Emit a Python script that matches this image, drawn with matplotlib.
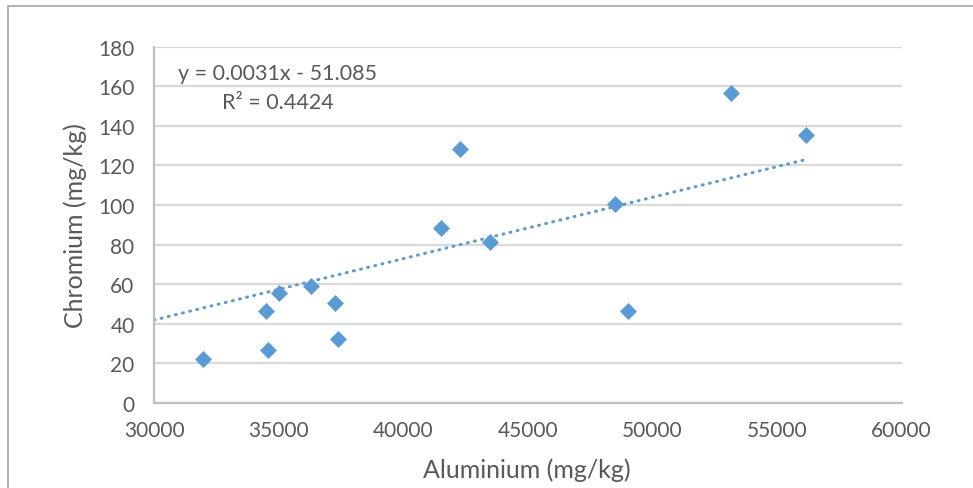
import matplotlib.pyplot as plt
from matplotlib.patches import Rectangle

# dados (Al x Cr, mg/kg)
aluminio = [31950, 34490, 34590, 35020, 36300, 37280, 37380,
            41500, 42270, 43500, 48500, 49010, 53170, 56160]
cromo = [22.2, 46.6, 26.8, 55.6, 59.3, 50.7, 32.3,
         88.3, 128.2, 81.5, 100.4, 46.5, 156.8, 135.3]

# linha de tendencia (como mostrado no grafico)
inclinacao = 0.0031
intercepto = -51.085
r2 = 0.4424
x_tend = [30000, max(aluminio)]

azul = '#5B9BD5'
cinza_txt = '#595959'

plt.rcParams['font.family'] = ['Lato', 'DejaVu Sans']

fig = plt.figure(figsize=(9.73, 4.89), dpi=100)
ax = fig.add_axes([0.1583, 0.1738, 0.7684, 0.7287])

# borda externa (so esquerda e topo aparecem)
fig.patches.append(Rectangle((7.5 / 973, -0.1), 1.1, 1.1 - 6.5 / 489,
                             transform=fig.transFigure, fill=False,
                             edgecolor='#A6A6A6', lw=1.2))

ax.set_xlim(30000, 60000)
ax.set_ylim(0, 180)
ax.set_xticks(range(30000, 60001, 5000))
ax.set_yticks(range(0, 181, 20))

ax.yaxis.grid(True, color='#D9D9D9', lw=1.6)
ax.set_axisbelow(True)
for s in ['top', 'right']:
    ax.spines[s].set_visible(False)
ax.spines['left'].set_color('#BFBFBF')
ax.spines['bottom'].set_color('#BFBFBF')
ax.spines['left'].set_linewidth(1.6)
ax.spines['bottom'].set_linewidth(1.6)
ax.tick_params(length=0, labelsize=15, labelcolor=cinza_txt)
ax.tick_params(axis='y', pad=14)
ax.tick_params(axis='x', pad=12)

y_tend = [inclinacao * x + intercepto for x in x_tend]
ax.plot(x_tend, y_tend, color=azul, lw=2.2, linestyle=(0, (0.3, 2.1)),
        dash_capstyle='round', zorder=2)
ax.scatter(aluminio, cromo, marker='D', s=75, color=azul, zorder=3,
           linewidths=0)

fig.text(278 / 973, 1 - 74 / 489, f'y = {inclinacao}x - {abs(intercepto)}',
         ha='center', va='center', fontsize=15.5, color=cinza_txt)
fig.text(278 / 973, 1 - 103 / 489, f'R² = {r2}',
         ha='center', va='center', fontsize=15.5, color=cinza_txt)

fig.text(527 / 973, 1 - 470 / 489, 'Aluminium (mg/kg)', ha='center',
         va='center', fontsize=18, color=cinza_txt)
fig.text(75 / 973, 1 - 226 / 489, 'Chromium (mg/kg)', ha='center',
         va='center', rotation=90, fontsize=18, color=cinza_txt)

fig.savefig('out.png', dpi=100)
